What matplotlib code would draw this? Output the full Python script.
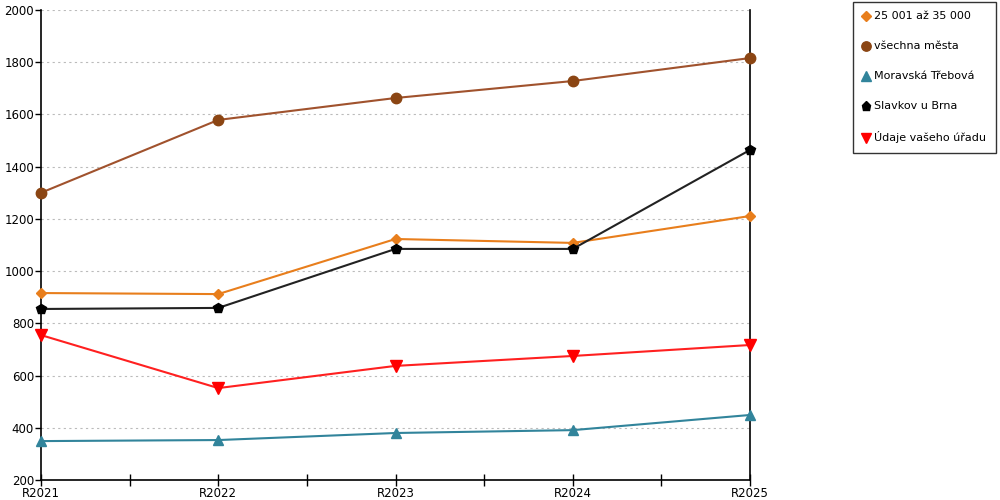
import numpy as np
import matplotlib.pyplot as plt

years = ["R2021", "R2022", "R2023", "R2024", "R2025"]
labels = ["25 001 až 35 000", "všechna města", "Moravská Třebová",
          "Slavkov u Brna", "Údaje vašeho úřadu"]
vals_size = [916, 912, 1123, 1108, 1211]
vals_all = [1300, 1579, 1663, 1728, 1816]
vals_mt = [349, 353, 380, 391, 449]
vals_slavkov = [855, 859, 1085, 1085, 1464]
vals_office = [755, 552, 637, 675, 717]

series = [vals_size, vals_all, vals_mt, vals_slavkov, vals_office]
colors = ["#E87E1C", "#8B4513", "#31849B", "#000000", "#FF0000"]
line_colors = ["#E87E1C", "#A0522D", "#31849B", "#222222", "#FF2020"]
markers = ["D", "o", "^", "p", "v"]
msizes = [5.5, 7.5, 7.5, 7.5, 8.5]

plt.rcParams['font.family'] = ['DejaVu Sans']
fig = plt.figure(figsize=(10, 5), dpi=100)
ax = fig.add_axes([0.041, 0.04, 0.709, 0.94])

x = np.arange(len(years))
for vals, lab, c, lc, m, ms in zip(series, labels, colors, line_colors, markers, msizes):
    ax.plot(x, vals, color=lc, lw=1.5, marker=m, markersize=ms,
            markerfacecolor=c, markeredgecolor=c, label=lab, clip_on=False, zorder=3)

ax.set_xlim(0, len(years) - 1)
ax.set_ylim(200, 2000)
ax.set_yticks(np.arange(200, 2001, 200))
ax.set_xticks(x)
ax.set_xticklabels(years)
ax.set_xticks(x[:-1] + 0.5, minor=True)
ax.tick_params(axis='x', which='both', direction='inout', length=8, width=1, labelsize=8.5, pad=1)
ax.tick_params(axis='y', direction='out', length=4, width=1, labelsize=8.5, pad=1)
ax.grid(axis='y', color='#BBBBBB', linestyle=(0, (2, 3)), lw=0.8)
ax.spines['top'].set_visible(False)
ax.spines['right'].set_color('black')
for s in ['left', 'bottom', 'right']:
    ax.spines[s].set_linewidth(1.2)

leg = fig.legend(loc='upper left', bbox_to_anchor=(0.853, 0.996), frameon=True,
                 fancybox=False, edgecolor='black', fontsize=8, handlelength=0.7,
                 handletextpad=0.35, labelspacing=1.8, borderpad=0.85,
                 borderaxespad=0, markerscale=0.9)
leg.get_frame().set_linewidth(1)
for h in leg.legend_handles:
    h.set_linestyle('none')

fig.savefig("out.png", dpi=100)
